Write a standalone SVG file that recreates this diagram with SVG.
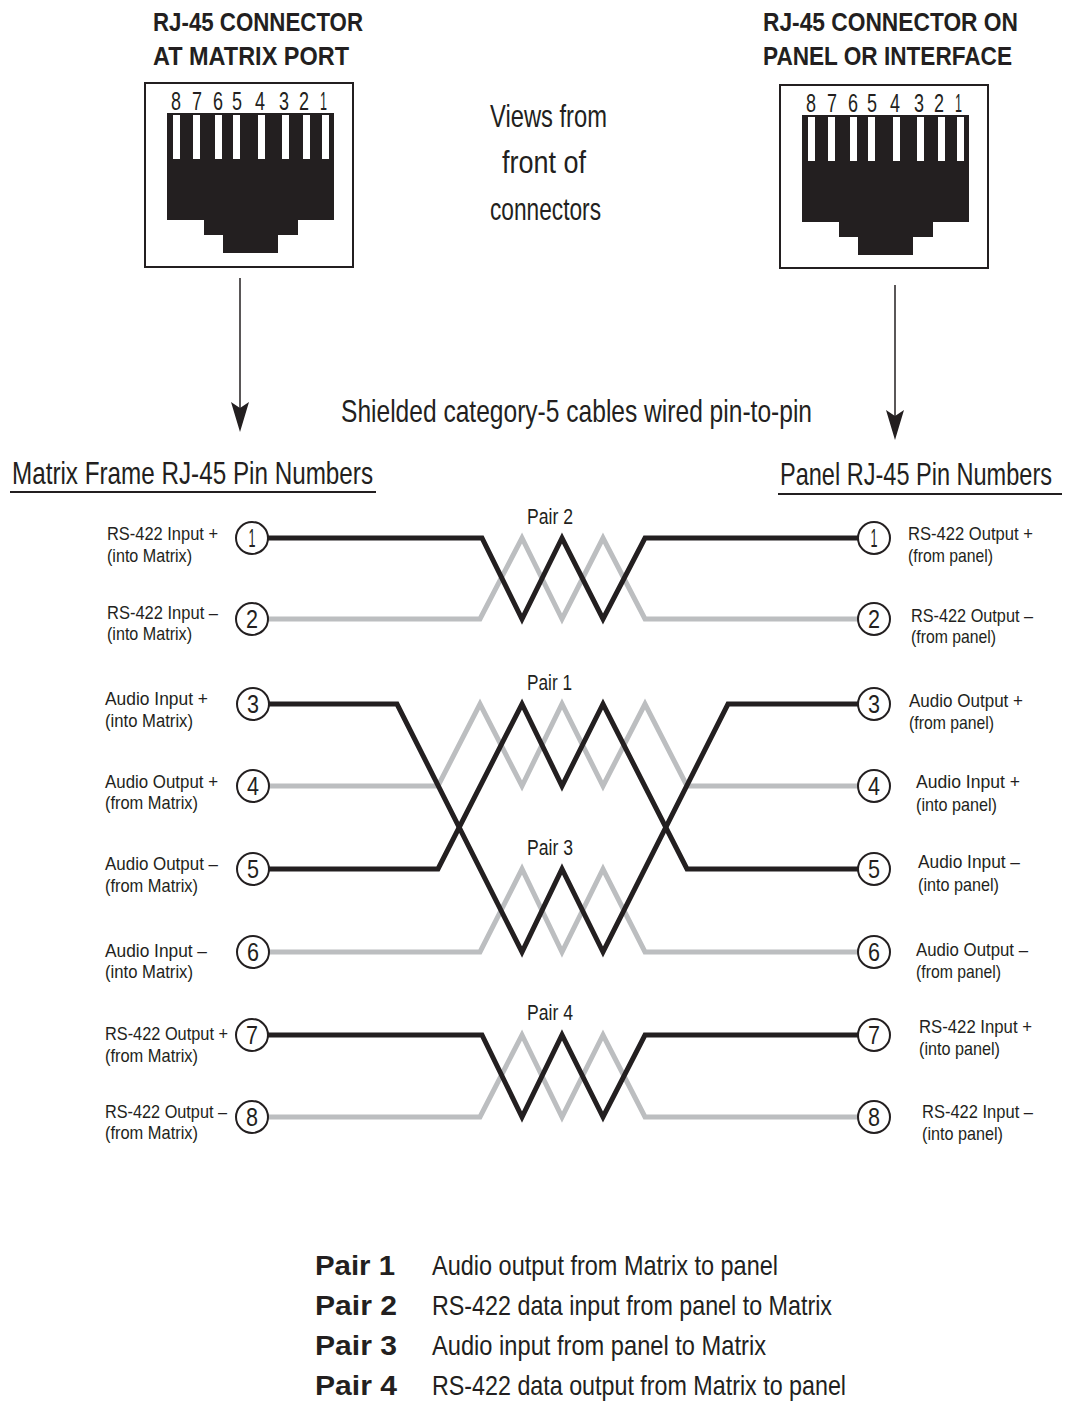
<svg xmlns="http://www.w3.org/2000/svg" width="1066" height="1402" viewBox="0 0 1066 1402">
<style>
text{font-family:"Liberation Sans",Arial,sans-serif;fill:#231f20}
.t{font-weight:bold;font-size:25px}
.big{font-size:32px}
.d{font-size:25px}
.lab{font-size:19px}
.pin{font-size:26px;text-anchor:middle}
.pair{font-size:22px}
.lg{font-weight:bold;font-size:27px}
.ld{font-size:28px}
.blk{fill:none;stroke:#231f20;stroke-width:5;stroke-linejoin:miter}
.gry{fill:none;stroke:#bcbec0;stroke-width:5;stroke-linejoin:miter}
.pc{fill:#fff;stroke:#231f20;stroke-width:2}
.box{fill:#fff;stroke:#231f20;stroke-width:2}
.ar{stroke:#231f20;stroke-width:1.5}
</style>
<defs>
<g id="jack">
<path d="M167,113 H334 V220 H298 V235 H278 V253 H223 V235 H204 V220 H167 Z" fill="#231f20"/>
<g fill="#fff">
<rect x="173" y="115" width="7" height="44"/>
<rect x="193" y="115" width="7" height="44"/>
<rect x="215" y="115" width="7" height="44"/>
<rect x="233" y="115" width="7" height="44"/>
<rect x="258" y="115" width="7" height="44"/>
<rect x="282" y="115" width="7" height="44"/>
<rect x="303" y="115" width="7" height="44"/>
<rect x="322" y="115" width="7" height="44"/>
</g>
<g>
<text x="171" y="110" class="d" textLength="10" lengthAdjust="spacingAndGlyphs">8</text>
<text x="192" y="110" class="d" textLength="10" lengthAdjust="spacingAndGlyphs">7</text>
<text x="213" y="110" class="d" textLength="10" lengthAdjust="spacingAndGlyphs">6</text>
<text x="232" y="110" class="d" textLength="10" lengthAdjust="spacingAndGlyphs">5</text>
<text x="255" y="110" class="d" textLength="10" lengthAdjust="spacingAndGlyphs">4</text>
<text x="279" y="110" class="d" textLength="10" lengthAdjust="spacingAndGlyphs">3</text>
<text x="299" y="110" class="d" textLength="10" lengthAdjust="spacingAndGlyphs">2</text>
<text x="320" y="110" class="d" textLength="7" lengthAdjust="spacingAndGlyphs">1</text>
</g>
</g>
</defs>

<g id="left-connector">
<text class="t" x="153" y="31" textLength="210" lengthAdjust="spacingAndGlyphs">RJ-45 CONNECTOR</text>
<text class="t" x="153" y="65" textLength="196" lengthAdjust="spacingAndGlyphs">AT MATRIX PORT</text>
<rect class="box" x="145" y="83" width="208" height="184"/>
<use href="#jack"/>
</g>

<g id="right-connector">
<text class="t" x="763" y="31" textLength="255" lengthAdjust="spacingAndGlyphs">RJ-45 CONNECTOR ON</text>
<text class="t" x="763" y="65" textLength="249" lengthAdjust="spacingAndGlyphs">PANEL OR INTERFACE</text>
<rect class="box" x="780" y="85" width="208" height="183"/>
<use href="#jack" transform="translate(635,2)"/>
</g>

<g id="views-note">
<text class="big" x="490" y="127" textLength="117" lengthAdjust="spacingAndGlyphs">Views from</text>
<text class="big" x="502" y="173" textLength="84" lengthAdjust="spacingAndGlyphs">front of</text>
<text class="big" x="490" y="220" textLength="111" lengthAdjust="spacingAndGlyphs">connectors</text>
</g>

<g id="arrows">
<line class="ar" x1="240" y1="278" x2="240" y2="420"/>
<path d="M231,402 L240,432 L249,402 L240,408 Z" fill="#231f20"/>
<line class="ar" x1="895" y1="285" x2="895" y2="428"/>
<path d="M886,410 L895,440 L904,410 L895,416 Z" fill="#231f20"/>
</g>

<text class="big" x="341" y="422" textLength="471" lengthAdjust="spacingAndGlyphs">Shielded category-5 cables wired pin-to-pin</text>

<g id="headers">
<text class="big" x="12" y="484" textLength="361" lengthAdjust="spacingAndGlyphs">Matrix Frame RJ-45 Pin Numbers</text>
<line x1="10" y1="492" x2="376" y2="492" stroke="#231f20" stroke-width="2"/>
<text transform="translate(780,485) scale(1,1.33)" x="0" y="0" font-size="24" textLength="272" lengthAdjust="spacingAndGlyphs">Panel RJ-45 Pin Numbers</text>
<line x1="778" y1="494" x2="1062" y2="494" stroke="#231f20" stroke-width="2"/>
</g>

<g id="connectors">
<!-- Pair 2 -->
<polyline class="gry" points="268,619 480,619 522,538 562,619 603,538 645,619 858,619"/>
<polyline class="blk" points="268,538 482,538 522,619 562,538 603,619 645,538 858,538"/>
<!-- Pair 1 / Pair 3 -->
<polyline class="gry" points="268,786 438,786 480,704 522,786 562,704 603,786 645,704 687,786 858,786"/>
<polyline class="gry" points="268,952 480,952 522,869 562,952 603,869 645,952 858,952"/>
<polyline class="blk" points="268,869 438,869 522,704 562,786 603,704 687,869 858,869"/>
<polyline class="blk" points="268,704 397,704 522,952 562,869 603,952 728,704 858,704"/>
<!-- Pair 4 -->
<polyline class="gry" points="268,1117 480,1117 522,1035 562,1117 603,1035 645,1117 858,1117"/>
<polyline class="blk" points="268,1035 482,1035 522,1117 562,1035 603,1117 645,1035 858,1035"/>
</g>

<g id="pair-labels">
<text class="pair" x="527" y="524" textLength="46" lengthAdjust="spacingAndGlyphs">Pair 2</text>
<text class="pair" x="527" y="690" textLength="45" lengthAdjust="spacingAndGlyphs">Pair 1</text>
<text class="pair" x="527" y="855" textLength="46" lengthAdjust="spacingAndGlyphs">Pair 3</text>
<text class="pair" x="527" y="1020" textLength="46" lengthAdjust="spacingAndGlyphs">Pair 4</text>
</g>

<g id="left-pins">
<g id="lp1"><circle class="pc" cx="252" cy="538" r="16"/><text class="pin" x="252" y="547" textLength="7" lengthAdjust="spacingAndGlyphs">1</text></g>
<g id="lp2"><circle class="pc" cx="252" cy="619" r="16"/><text class="pin" x="252" y="628" textLength="12" lengthAdjust="spacingAndGlyphs">2</text></g>
<g id="lp3"><circle class="pc" cx="253" cy="704" r="16"/><text class="pin" x="253" y="713" textLength="12" lengthAdjust="spacingAndGlyphs">3</text></g>
<g id="lp4"><circle class="pc" cx="253" cy="786" r="16"/><text class="pin" x="253" y="795" textLength="12" lengthAdjust="spacingAndGlyphs">4</text></g>
<g id="lp5"><circle class="pc" cx="253" cy="869" r="16"/><text class="pin" x="253" y="878" textLength="12" lengthAdjust="spacingAndGlyphs">5</text></g>
<g id="lp6"><circle class="pc" cx="253" cy="952" r="16"/><text class="pin" x="253" y="961" textLength="12" lengthAdjust="spacingAndGlyphs">6</text></g>
<g id="lp7"><circle class="pc" cx="252" cy="1035" r="16"/><text class="pin" x="252" y="1044" textLength="12" lengthAdjust="spacingAndGlyphs">7</text></g>
<g id="lp8"><circle class="pc" cx="252" cy="1117" r="16"/><text class="pin" x="252" y="1126" textLength="12" lengthAdjust="spacingAndGlyphs">8</text></g>
</g>

<g id="right-pins">
<g id="rp1"><circle class="pc" cx="874" cy="538" r="16"/><text class="pin" x="874" y="547" textLength="7" lengthAdjust="spacingAndGlyphs">1</text></g>
<g id="rp2"><circle class="pc" cx="874" cy="619" r="16"/><text class="pin" x="874" y="628" textLength="12" lengthAdjust="spacingAndGlyphs">2</text></g>
<g id="rp3"><circle class="pc" cx="874" cy="704" r="16"/><text class="pin" x="874" y="713" textLength="12" lengthAdjust="spacingAndGlyphs">3</text></g>
<g id="rp4"><circle class="pc" cx="874" cy="786" r="16"/><text class="pin" x="874" y="795" textLength="12" lengthAdjust="spacingAndGlyphs">4</text></g>
<g id="rp5"><circle class="pc" cx="874" cy="869" r="16"/><text class="pin" x="874" y="878" textLength="12" lengthAdjust="spacingAndGlyphs">5</text></g>
<g id="rp6"><circle class="pc" cx="874" cy="952" r="16"/><text class="pin" x="874" y="961" textLength="12" lengthAdjust="spacingAndGlyphs">6</text></g>
<g id="rp7"><circle class="pc" cx="874" cy="1035" r="16"/><text class="pin" x="874" y="1044" textLength="12" lengthAdjust="spacingAndGlyphs">7</text></g>
<g id="rp8"><circle class="pc" cx="874" cy="1117" r="16"/><text class="pin" x="874" y="1126" textLength="12" lengthAdjust="spacingAndGlyphs">8</text></g>
</g>

<g id="left-labels" class="lab">
<text class="lab" x="107" y="540" textLength="111" lengthAdjust="spacingAndGlyphs">RS-422 Input +</text>
<text class="lab" x="107" y="562" textLength="85" lengthAdjust="spacingAndGlyphs">(into Matrix)</text>
<text class="lab" x="107" y="619" textLength="111" lengthAdjust="spacingAndGlyphs">RS-422 Input –</text>
<text class="lab" x="107" y="640" textLength="85" lengthAdjust="spacingAndGlyphs">(into Matrix)</text>
<text class="lab" x="105" y="705" textLength="103" lengthAdjust="spacingAndGlyphs">Audio Input +</text>
<text class="lab" x="105" y="727" textLength="88" lengthAdjust="spacingAndGlyphs">(into Matrix)</text>
<text class="lab" x="105" y="788" textLength="113" lengthAdjust="spacingAndGlyphs">Audio Output +</text>
<text class="lab" x="105" y="809" textLength="93" lengthAdjust="spacingAndGlyphs">(from Matrix)</text>
<text class="lab" x="105" y="870" textLength="113" lengthAdjust="spacingAndGlyphs">Audio Output –</text>
<text class="lab" x="105" y="892" textLength="93" lengthAdjust="spacingAndGlyphs">(from Matrix)</text>
<text class="lab" x="105" y="957" textLength="102" lengthAdjust="spacingAndGlyphs">Audio Input –</text>
<text class="lab" x="105" y="978" textLength="88" lengthAdjust="spacingAndGlyphs">(into Matrix)</text>
<text class="lab" x="105" y="1040" textLength="123" lengthAdjust="spacingAndGlyphs">RS-422 Output +</text>
<text class="lab" x="105" y="1062" textLength="93" lengthAdjust="spacingAndGlyphs">(from Matrix)</text>
<text class="lab" x="105" y="1118" textLength="122" lengthAdjust="spacingAndGlyphs">RS-422 Output –</text>
<text class="lab" x="105" y="1139" textLength="93" lengthAdjust="spacingAndGlyphs">(from Matrix)</text>
</g>

<g id="right-labels" class="lab">
<text class="lab" x="908" y="540" textLength="125" lengthAdjust="spacingAndGlyphs">RS-422 Output +</text>
<text class="lab" x="908" y="562" textLength="85" lengthAdjust="spacingAndGlyphs">(from panel)</text>
<text class="lab" x="911" y="622" textLength="122" lengthAdjust="spacingAndGlyphs">RS-422 Output –</text>
<text class="lab" x="911" y="643" textLength="85" lengthAdjust="spacingAndGlyphs">(from panel)</text>
<text class="lab" x="909" y="707" textLength="114" lengthAdjust="spacingAndGlyphs">Audio Output +</text>
<text class="lab" x="909" y="729" textLength="85" lengthAdjust="spacingAndGlyphs">(from panel)</text>
<text class="lab" x="916" y="788" textLength="104" lengthAdjust="spacingAndGlyphs">Audio Input +</text>
<text class="lab" x="916" y="811" textLength="81" lengthAdjust="spacingAndGlyphs">(into panel)</text>
<text class="lab" x="918" y="868" textLength="102" lengthAdjust="spacingAndGlyphs">Audio Input –</text>
<text class="lab" x="918" y="891" textLength="81" lengthAdjust="spacingAndGlyphs">(into panel)</text>
<text class="lab" x="916" y="956" textLength="112" lengthAdjust="spacingAndGlyphs">Audio Output –</text>
<text class="lab" x="916" y="978" textLength="85" lengthAdjust="spacingAndGlyphs">(from panel)</text>
<text class="lab" x="919" y="1033" textLength="113" lengthAdjust="spacingAndGlyphs">RS-422 Input +</text>
<text class="lab" x="919" y="1055" textLength="81" lengthAdjust="spacingAndGlyphs">(into panel)</text>
<text class="lab" x="922" y="1118" textLength="111" lengthAdjust="spacingAndGlyphs">RS-422 Input –</text>
<text class="lab" x="922" y="1140" textLength="81" lengthAdjust="spacingAndGlyphs">(into panel)</text>
</g>

<g id="legend">
<text class="lg" x="315" y="1275" textLength="80" lengthAdjust="spacingAndGlyphs">Pair 1</text>
<text class="ld" x="432" y="1275" textLength="346" lengthAdjust="spacingAndGlyphs">Audio output from Matrix to panel</text>
<text class="lg" x="315" y="1315" textLength="82" lengthAdjust="spacingAndGlyphs">Pair 2</text>
<text class="ld" x="432" y="1315" textLength="400" lengthAdjust="spacingAndGlyphs">RS-422 data input from panel to Matrix</text>
<text class="lg" x="315" y="1355" textLength="82" lengthAdjust="spacingAndGlyphs">Pair 3</text>
<text class="ld" x="432" y="1355" textLength="334" lengthAdjust="spacingAndGlyphs">Audio input from panel to Matrix</text>
<text class="lg" x="315" y="1395" textLength="82" lengthAdjust="spacingAndGlyphs">Pair 4</text>
<text class="ld" x="432" y="1395" textLength="414" lengthAdjust="spacingAndGlyphs">RS-422 data output from Matrix to panel</text>
</g>
</svg>
